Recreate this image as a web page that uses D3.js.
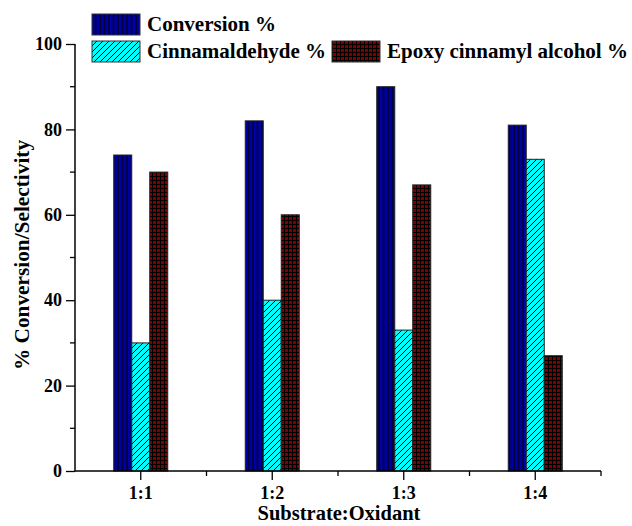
<!DOCTYPE html>
<html>
<head>
<meta charset="utf-8">
<script src="https://cdn.jsdelivr.net/npm/d3@7"></script>
<style>
  body { margin: 0; background: #fff; }
  text { font-family: "Liberation Serif", "Times New Roman", serif; font-weight: bold; }
</style>
</head>
<body>
<script>
// Data
var ratios = ["1:1", "1:2", "1:3", "1:4"];
var conversion = [74, 82, 90, 81];
var cinnamaldehyde = [30, 40, 33, 73];
var epoxy = [70, 60, 67, 27];
var seriesNames = ["Conversion %", "Cinnamaldehyde %", "Epoxy cinnamyl alcohol %"];
var yTicks = [0, 20, 40, 60, 80, 100];

var width = 632, height = 526;
var margin = {left: 75, right: 31, top: 44, bottom: 55};

var svg = d3.select("body").append("svg").attr("width", width).attr("height", height);

// Patterns for the bar fills
var defs = svg.append("defs");
var p1 = defs.append("pattern").attr("id", "pConv").attr("patternUnits", "userSpaceOnUse")
    .attr("width", 4.5).attr("height", 10);
p1.append("rect").attr("width", 4.5).attr("height", 10).attr("fill", "#0000a0");
p1.append("line").attr("x1", 1).attr("x2", 1).attr("y1", 0).attr("y2", 10).attr("stroke", "#000").attr("stroke-width", 1.1);

var p2 = defs.append("pattern").attr("id", "pCinn").attr("patternUnits", "userSpaceOnUse")
    .attr("width", 6).attr("height", 6);
p2.append("rect").attr("width", 6).attr("height", 6).attr("fill", "#00ffff");
p2.append("path").attr("d", "M-1,7 L7,-1 M-1,1 L1,-1 M5,7 L7,5").attr("stroke", "#000").attr("stroke-width", 1);

var p3 = defs.append("pattern").attr("id", "pEpoxy").attr("patternUnits", "userSpaceOnUse")
    .attr("width", 4).attr("height", 4);
p3.append("rect").attr("width", 4).attr("height", 4).attr("fill", "#800000");
p3.append("path").attr("d", "M0.5,0 V4 M0,0.5 H4").attr("stroke", "#000").attr("stroke-width", 1);

var fills = ["url(#pConv)", "url(#pCinn)", "url(#pEpoxy)"];

// Scales
var x = d3.scaleBand().domain(ratios).range([margin.left, width - margin.right]);
var y = d3.scaleLinear().domain([0, 100]).range([height - margin.bottom, margin.top]);
var barW = 18;

var rows = ratios.map(function(r, i) {
    return {ratio: r, vals: [conversion[i], cinnamaldehyde[i], epoxy[i]]};
});

// Bars
var groups = svg.append("g").selectAll("g").data(rows).enter().append("g");
groups.selectAll("rect").data(function(d) { return d.vals.map(function(v, k) { return {ratio: d.ratio, v: v, k: k}; }); })
    .enter().append("rect")
    .attr("x", function(d) { return x(d.ratio) + x.bandwidth() / 2 - 1.5 * barW + d.k * barW; })
    .attr("y", function(d) { return y(d.v); })
    .attr("width", barW)
    .attr("height", function(d) { return y(0) - y(d.v); })
    .attr("fill", function(d) { return fills[d.k]; })
    .attr("stroke", "#222").attr("stroke-width", 1);

// Y axis
var yAxis = svg.append("g").attr("transform", "translate(" + margin.left + ",0)")
    .call(d3.axisLeft(y).tickValues(yTicks).tickSize(9).tickPadding(4).tickFormat(d3.format("d")));
yAxis.select(".domain").attr("d", "M0," + y(100) + "V" + y(0));
yAxis.selectAll("text").attr("font-size", 18).attr("fill", "#000");
yAxis.selectAll("line").attr("stroke-width", 1.3);
yAxis.select(".domain").attr("stroke-width", 1.5);
svg.append("g").selectAll("line").data([10, 30, 50, 70, 90]).enter().append("line")
    .attr("x1", margin.left - 5).attr("x2", margin.left)
    .attr("y1", function(d) { return y(d); }).attr("y2", function(d) { return y(d); })
    .attr("stroke", "#000").attr("stroke-width", 1.3);

// X axis
var xAxis = svg.append("g").attr("transform", "translate(0," + y(0) + ")")
    .call(d3.axisBottom(x).tickSize(9).tickPadding(6));
xAxis.select(".domain").attr("d", "M" + margin.left + ",0H" + (width - margin.right)).attr("stroke-width", 1.5);
xAxis.selectAll("text").attr("font-size", 18).attr("fill", "#000");
xAxis.selectAll("line").attr("stroke-width", 1.3);
var minorX = d3.range(ratios.length + 1).map(function(i) { return margin.left + i * x.step(); }).slice(1);
xAxis.append("g").selectAll("line").data(minorX).enter().append("line")
    .attr("x1", function(d) { return d; }).attr("x2", function(d) { return d; })
    .attr("y1", 0).attr("y2", 5).attr("stroke", "#000").attr("stroke-width", 1.3);

// Axis titles
svg.append("text").attr("x", 339).attr("y", 520)
    .attr("text-anchor", "middle").attr("font-size", 20.5).text("Substrate:Oxidant");
svg.append("text").attr("transform", "translate(29,255) rotate(-90)")
    .attr("text-anchor", "middle").attr("font-size", 21.3).text("% Conversion/Selectivity");

// Legend
var legendItems = [
    {x: 92, y: 14, text: seriesNames[0], fill: fills[0]},
    {x: 92, y: 41, text: seriesNames[1], fill: fills[1]},
    {x: 332, y: 41, text: seriesNames[2], fill: fills[2]}
];
var leg = svg.append("g").selectAll("g").data(legendItems).enter().append("g");
leg.append("rect").attr("x", function(d) { return d.x; }).attr("y", function(d) { return d.y; })
    .attr("width", 48).attr("height", 21).attr("fill", function(d) { return d.fill; })
    .attr("stroke", "#333").attr("stroke-width", 1);
leg.append("text").attr("x", function(d) { return d.x + 55; }).attr("y", function(d) { return d.y + 17; })
    .attr("font-size", 21).text(function(d) { return d.text; });
</script>
</body>
</html>
